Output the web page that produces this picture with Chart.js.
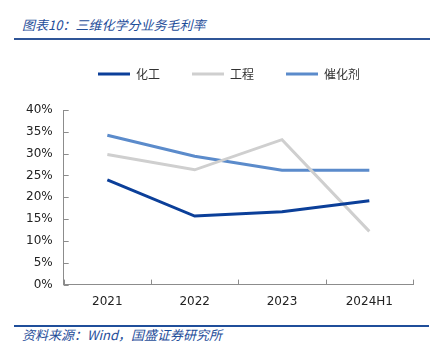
<!DOCTYPE html>
<html><head><meta charset="utf-8">
<script src="https://cdn.jsdelivr.net/npm/chart.js@4"></script>
<style>
html,body{margin:0;padding:0;background:#fff;}
body{width:438px;height:356px;position:relative;overflow:hidden;font-family:"Noto Sans CJK SC","DejaVu Sans",sans-serif;}
#title{position:absolute;left:22px;top:15px;font-size:13px;font-style:italic;color:#1F4E9A;line-height:20px;white-space:nowrap;}
#tline{position:absolute;left:14px;top:38px;width:416px;height:2px;background:#2F5597;}
#bline{position:absolute;left:14px;top:325px;width:415px;height:1.5px;background:#1F4E9A;}
#src{position:absolute;left:22px;top:325px;font-size:13px;font-style:italic;color:#1F4E9A;line-height:19px;white-space:nowrap;}
#wrap{position:absolute;left:0;top:36px;width:438px;height:283px;}
</style></head>
<body>
<div id="title">图表10：三维化学分业务毛利率</div>
<div id="tline"></div>
<div id="wrap"><canvas id="c"></canvas></div>
<div id="bline"></div>
<div id="src">资料来源：Wind，国盛证券研究所</div>
<script>
const categories = ["2021", "2022", "2023", "2024H1"];
const chemical = [24.0, 15.7, 16.7, 19.2];
const engineering = [29.8, 26.3, 33.2, 12.2];
const catalyst = [34.2, 29.4, 26.2, 26.2];
const seriesNames = ["化工", "工程", "催化剂"];
const yTicks = [0, 5, 10, 15, 20, 25, 30, 35, 40];

const colors = ["#0B3F99", "#CFCFCF", "#5B8BCB"];
const axisColor = "#8C8C8C";

const innerTicks = {
  id: "innerTicks",
  beforeInit(chart) {
    const lg = chart.legend;
    if (lg) {
      const orig = lg.fit.bind(lg);
      lg.fit = function () { orig(); this.height += 20; };
    }
  },
  afterLayout(chart) {
    const lg = chart.legend;
    if (lg) { lg.left += 15; lg.right += 15; }
  },
  afterDraw(chart) {
    const ctx = chart.ctx, x = chart.scales.x, y = chart.scales.y;
    const L = chart.chartArea.left, B = chart.chartArea.bottom;
    ctx.save();
    ctx.strokeStyle = axisColor; ctx.lineWidth = 1;
    ctx.beginPath();
    yTicks.forEach(v => { const py = Math.round(y.getPixelForValue(v)) + 0.5; ctx.moveTo(L, py); ctx.lineTo(L + 5, py); });
    const n = categories.length;
    const w = (x.getPixelForTick(1) - x.getPixelForTick(0));
    for (let i = 0; i <= n; i++) {
      const px = Math.round(x.getPixelForTick(0) - w / 2 + i * w) + 0.5;
      ctx.moveTo(px, B); ctx.lineTo(px, B - 5);
    }
    ctx.stroke();
    ctx.restore();
  }
};

new Chart(document.getElementById("c"), {
  type: "line",
  data: {
    labels: categories,
    datasets: [
      { label: seriesNames[0], data: chemical, borderColor: colors[0], backgroundColor: colors[0] },
      { label: seriesNames[1], data: engineering, borderColor: colors[1], backgroundColor: colors[1] },
      { label: seriesNames[2], data: catalyst, borderColor: colors[2], backgroundColor: colors[2] }
    ].map(d => Object.assign(d, { borderWidth: 3, pointRadius: 0, pointHoverRadius: 0, tension: 0, fill: false }))
  },
  options: {
    responsive: true, maintainAspectRatio: false, animation: false,
    layout: { padding: { left: 15, right: 25, top: 0, bottom: 0 } },
    plugins: {
      tooltip: { enabled: false },
      legend: {
        display: true, position: "top", align: "center",
        labels: {
          boxWidth: 32, boxHeight: 3, padding: 32,
          color: "#333", font: { size: 12, family: "'Noto Sans CJK SC'" },
          generateLabels: (chart) => Chart.defaults.plugins.legend.labels.generateLabels(chart)
            .map(it => Object.assign(it, { lineWidth: 0, fillStyle: it.strokeStyle }))
        }
      }
    },
    scales: {
      x: {
        offset: true,
        grid: { display: false, drawTicks: false },
        border: { display: true, color: axisColor, width: 1 },
        ticks: { color: "#222", padding: 10, font: { size: 12, family: "'DejaVu Sans'" } }
      },
      y: {
        min: 0, max: 40,
        afterBuildTicks: s => { s.ticks = yTicks.map(v => ({ value: v })); },
        grid: { display: false, drawTicks: false },
        border: { display: true, color: axisColor, width: 1 },
        ticks: { color: "#222", padding: 11, font: { size: 12, family: "'DejaVu Sans'" }, callback: v => v + "%" }
      }
    }
  },
  plugins: [innerTicks]
});
</script>
</body></html>
